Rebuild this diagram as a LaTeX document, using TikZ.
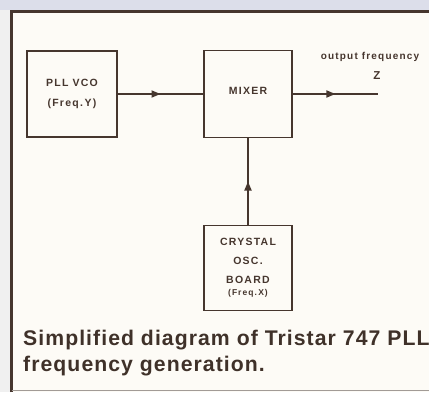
\documentclass[tikz,border=0pt]{standalone}
\usepackage{fontspec}
\setmainfont{Liberation Sans}
\newfontfamily\boxfont[LetterSpace=12]{Liberation Sans}
\newfontfamily\capfont[LetterSpace=5]{Liberation Sans}
\usetikzlibrary{arrows.meta,decorations.markings}

\definecolor{ink}{RGB}{70,54,46}
\definecolor{paper}{RGB}{253,251,246}
\definecolor{strip}{RGB}{220,222,234}

\tikzset{
  block/.style={draw=ink,line width=1.7pt,align=center,text=ink,
    font=\boxfont\bfseries\fontsize{10.5}{13}\selectfont},
  signal/.style={draw=ink,line width=1.7pt,postaction={decorate},
    decoration={markings,mark=at position 0.5 with {\arrow{Triangle[length=9pt,width=7pt]}}}}
}

\begin{document}
\begin{tikzpicture}[x=1pt,y=-1pt,>=Latex]
  \useasboundingbox (0,0) rectangle (429,392);

  % ================= page and frame =================
  \fill[paper] (0,0) rectangle (429,392);
  \fill[strip] (0,0) rectangle (429,10);
  \fill[gray!12] (0,10) rectangle (10,392);
  \draw[ink,line width=3.5pt] (11.5,392) -- (11.5,11.5) -- (429,11.5);
  \draw[ink!50,line width=1pt] (11.5,390.5) -- (429,390.5);

  % ================= blocks =================
  \node[block,minimum width=90pt,minimum height=86pt] (pll) at (72,94)
    {PLL VCO\\[7pt](Freq.\,Y)};
  \node[block,minimum width=88pt,minimum height=87pt] (mixer) at (248,94)
    {\smash{MIXER}};
  \node[block,minimum width=88pt,minimum height=85pt] (xtal) at (248,268)
    {CRYSTAL\\[6pt]OSC.\\[6pt]BOARD\\[-1pt]{\fontsize{8.5}{10}\selectfont(Freq.\,X)}};
  \coordinate (out) at (378,94);

  % ================= signals =================
  \draw[signal] (pll.east) -- (mixer.west);
  \draw[signal] (mixer.east) -- (out);
  \draw[signal] (xtal.north) -- (mixer.south);

  \node[text=ink,font=\boxfont\bfseries\fontsize{10}{12}\selectfont] (outlbl) at (370,57)
    {output frequency};
  \node[text=ink,font=\boxfont\bfseries\fontsize{11.5}{12}\selectfont] (zlbl) at (377,76) {Z};

  % ================= caption =================
  \node[anchor=north west,align=left,text=ink!90!black,inner sep=0pt,
    font=\capfont\bfseries\fontsize{21.2}{26}\selectfont] (caption) at (23,330)
    {Simplified diagram of Tristar 747 PLL\\frequency generation.};
\end{tikzpicture}
\end{document}
